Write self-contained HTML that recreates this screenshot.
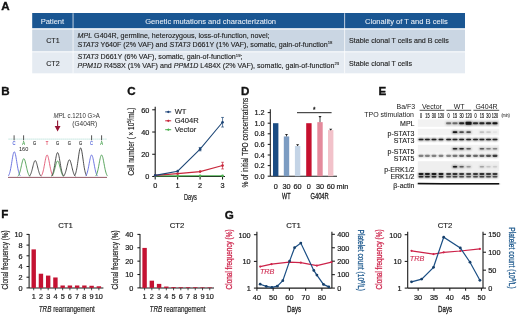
<!DOCTYPE html>
<html><head><meta charset="utf-8">
<style>
html,body{margin:0;padding:0;background:#fff;width:520px;height:315px;overflow:hidden}
svg{display:block;font-family:"Liberation Sans",sans-serif;will-change:transform}
.pl{font-weight:bold;font-size:11.6px;fill:#111;stroke:#111;stroke-width:0.35px}
.tt{font-size:7.12px;fill:#222;stroke:#222;stroke-width:0.12px}
.th{font-size:7.55px;fill:#e6edf5;stroke:#e6edf5;stroke-width:0.08px}
.tk{font-size:7.3px;fill:#222;stroke:#222;stroke-width:0.22px}
.lb{font-size:7px;fill:#222}
</style></head><body>
<svg width="520" height="315" viewBox="0 0 520 315">

<text class="pl" x="1.2" y="9.6">A</text>
<rect x="32.2" y="13.0" width="432.8" height="15.2" fill="#1a5692"/>
<rect x="32.2" y="29.5" width="432.8" height="21.8" fill="#cad6e3"/>
<rect x="32.2" y="52.3" width="432.8" height="21" fill="#e5ebf2"/>
<rect x="72.6" y="13.2" width="0.9" height="60.1" fill="#fff" opacity="0.8"/>
<rect x="344.2" y="13.2" width="0.9" height="60.1" fill="#fff" opacity="0.8"/>
<text class="th" x="52.4" y="24" text-anchor="middle">Patient</text>
<text class="th" x="210.6" y="24" text-anchor="middle">Genetic mutations and characterization</text>
<text class="th" x="406.4" y="24" text-anchor="middle">Clonality of T and B cells</text>
<text class="tt" x="52.9" y="42.9" text-anchor="middle" font-size="8" stroke="#262626" stroke-width="0.08">CT1</text>
<text class="tt" x="52.9" y="65.9" text-anchor="middle" font-size="8" stroke="#262626" stroke-width="0.08">CT2</text>
<text class="tt" x="77.5" y="38"><tspan font-style="italic">MPL</tspan> G404R, germline, heterozygous, loss-of-function, novel;</text>
<text class="tt" x="77.5" y="46.6"><tspan font-style="italic">STAT3</tspan> Y640F (2% VAF) and <tspan font-style="italic">STAT3</tspan> D661Y (1% VAF), somatic, gain-of-function<tspan font-size="4.2" dy="-2.6">18</tspan></text>
<text class="tt" x="77.5" y="59.3"><tspan font-style="italic">STAT3</tspan> D661Y (6% VAF), somatic, gain-of-function<tspan font-size="4.2" dy="-2.6">19</tspan><tspan dy="2.6">;</tspan></text>
<text class="tt" x="77.5" y="68"><tspan font-style="italic">PPM1D</tspan> R458X (1% VAF) and <tspan font-style="italic">PPM1D</tspan> L484X (2% VAF), somatic, gain-of-function<tspan font-size="4.2" dy="-2.6">23</tspan></text>
<text class="tt" x="349" y="43" font-size="7.25">Stable clonal T cells and B cells</text>
<text class="tt" x="349" y="65.6" font-size="7.25">Stable clonal T cells</text>

<text class="pl" x="1.3" y="94.6">B</text>
<text class="pl" x="127.3" y="94.8">C</text>
<text class="pl" x="241" y="94.5">D</text>
<text class="pl" x="378.4" y="94.5">E</text>
<text class="pl" x="1.2" y="218.3">F</text>
<text class="pl" x="224.8" y="219">G</text>

<text x="53.4" y="117.7" font-size="6.3" fill="#333" textLength="46.5" lengthAdjust="spacingAndGlyphs"><tspan font-style="italic">MPL</tspan> c.1210 G&gt;A</text>
<text x="72.3" y="126.2" font-size="6.5" fill="#333">(G404R)</text>
<line x1="57.6" y1="120.4" x2="57.6" y2="127" stroke="#8e1533" stroke-width="1.1"/>
<path d="M54.7,125.9 L60.5,125.9 L57.6,131.4 Z" fill="#961535"/>
<line x1="8.5" y1="139.1" x2="107" y2="139.1" stroke="#9cd6cc" stroke-width="0.8" stroke-dasharray="1.2,0.8"/>
<text x="14.1" y="144.7" font-size="5.2" fill="#5060d8" stroke="#5060d8" stroke-width="0.15" text-anchor="middle" transform="translate(14.1,0) scale(0.8,1) translate(-14.1,0)">C</text>
<text x="23.6" y="144.7" font-size="5.2" fill="#3a9a40" stroke="#3a9a40" stroke-width="0.15" text-anchor="middle" transform="translate(23.6,0) scale(0.8,1) translate(-23.6,0)">A</text>
<text x="34.5" y="144.7" font-size="5.2" fill="#333" stroke="#333" stroke-width="0.15" text-anchor="middle" transform="translate(34.5,0) scale(0.8,1) translate(-34.5,0)">G</text>
<text x="46.9" y="144.7" font-size="5.2" fill="#e0405a" stroke="#e0405a" stroke-width="0.15" text-anchor="middle" transform="translate(46.9,0) scale(0.8,1) translate(-46.9,0)">T</text>
<text x="57.6" y="144.7" font-size="5.2" fill="#333" stroke="#333" stroke-width="0.15" text-anchor="middle" transform="translate(57.6,0) scale(0.8,1) translate(-57.6,0)">G</text>
<text x="69.4" y="144.7" font-size="5.2" fill="#333" stroke="#333" stroke-width="0.15" text-anchor="middle" transform="translate(69.4,0) scale(0.8,1) translate(-69.4,0)">G</text>
<text x="80.6" y="144.7" font-size="5.2" fill="#333" stroke="#333" stroke-width="0.15" text-anchor="middle" transform="translate(80.6,0) scale(0.8,1) translate(-80.6,0)">G</text>
<text x="91.6" y="144.7" font-size="5.2" fill="#5060d8" stroke="#5060d8" stroke-width="0.15" text-anchor="middle" transform="translate(91.6,0) scale(0.8,1) translate(-91.6,0)">C</text>
<text x="101.6" y="144.7" font-size="5.2" fill="#3a9a40" stroke="#3a9a40" stroke-width="0.15" text-anchor="middle" transform="translate(101.6,0) scale(0.8,1) translate(-101.6,0)">A</text>
<line x1="14.1" y1="135.3" x2="14.1" y2="140.3" stroke="#555" stroke-width="1"/>
<line x1="23.6" y1="135.3" x2="23.6" y2="140.3" stroke="#555" stroke-width="1"/>
<line x1="91.6" y1="135.3" x2="91.6" y2="140.3" stroke="#555" stroke-width="1"/>
<line x1="101.6" y1="135.3" x2="101.6" y2="140.3" stroke="#555" stroke-width="1"/>
<text x="19" y="150.8" font-size="5.6" fill="#222">160</text>
<polyline points="8.30,175.93 8.60,175.50 8.90,174.96 9.20,174.29 9.50,173.47 9.80,172.50 10.10,171.36 10.40,170.05 10.70,168.57 11.00,166.95 11.30,165.20 11.60,163.36 11.90,161.48 12.20,159.61 12.50,157.81 12.80,156.14 13.10,154.67 13.40,153.46 13.70,152.55 14.00,151.99 14.30,151.80 14.60,151.99 14.90,152.55 15.20,153.46 15.50,154.67 15.80,156.14 16.10,157.81 16.40,159.61 16.70,161.48 17.00,163.36 17.30,165.20 17.60,166.95 17.90,168.57 18.20,170.05 18.50,171.36 18.80,172.50 19.10,173.47 19.40,174.29 19.70,174.96 20.00,175.50 20.30,175.93" fill="none" stroke="#5f68dc" stroke-width="0.9"/>
<polyline points="17.80,176.28 18.10,175.96 18.40,175.57 18.70,175.08 19.00,174.49 19.30,173.78 19.60,172.94 19.90,171.99 20.20,170.91 20.50,169.73 20.80,168.46 21.10,167.12 21.40,165.75 21.70,164.39 22.00,163.08 22.30,161.86 22.60,160.79 22.90,159.91 23.20,159.25 23.50,158.84 23.80,158.70 24.10,158.84 24.40,159.25 24.70,159.91 25.00,160.79 25.30,161.86 25.60,163.08 25.90,164.39 26.20,165.75 26.50,167.12 26.80,168.46 27.10,169.73 27.40,170.91 27.70,171.99 28.00,172.94 28.30,173.78 28.60,174.49 28.90,175.08 29.20,175.57 29.50,175.96 29.80,176.28" fill="none" stroke="#4a9c4e" stroke-width="0.9"/>
<polyline points="29.20,176.37 29.50,176.09 29.80,175.74 30.10,175.30 30.40,174.76 30.70,174.13 31.00,173.38 31.30,172.52 31.60,171.56 31.90,170.50 32.20,169.36 32.50,168.16 32.80,166.93 33.10,165.70 33.40,164.53 33.70,163.44 34.00,162.48 34.30,161.68 34.60,161.09 34.90,160.72 35.20,160.60 35.50,160.72 35.80,161.09 36.10,161.68 36.40,162.48 36.70,163.44 37.00,164.53 37.30,165.70 37.60,166.93 37.90,168.16 38.20,169.36 38.50,170.50 38.80,171.56 39.10,172.52 39.40,173.38 39.70,174.13 40.00,174.76 40.30,175.30 40.60,175.74 40.90,176.09 41.20,176.37" fill="none" stroke="#3a3a3a" stroke-width="0.9"/>
<polyline points="41.10,176.09 41.40,175.72 41.70,175.24 42.00,174.66 42.30,173.94 42.60,173.09 42.90,172.09 43.20,170.95 43.50,169.66 43.80,168.24 44.10,166.71 44.40,165.10 44.70,163.46 45.00,161.82 45.30,160.25 45.60,158.79 45.90,157.51 46.20,156.45 46.50,155.66 46.80,155.17 47.10,155.00 47.40,155.17 47.70,155.66 48.00,156.45 48.30,157.51 48.60,158.79 48.90,160.25 49.20,161.82 49.50,163.46 49.80,165.10 50.10,166.71 50.40,168.24 50.70,169.66 51.00,170.95 51.30,172.09 51.60,173.09 51.90,173.94 52.20,174.66 52.50,175.24 52.80,175.72 53.10,176.09" fill="none" stroke="#e05470" stroke-width="0.9"/>
<polyline points="51.60,176.39 51.90,176.12 52.20,175.77 52.50,175.34 52.80,174.82 53.10,174.20 53.40,173.47 53.70,172.64 54.00,171.70 54.30,170.66 54.60,169.55 54.90,168.37 55.20,167.17 55.50,165.98 55.80,164.83 56.10,163.77 56.40,162.83 56.70,162.06 57.00,161.48 57.30,161.12 57.60,161.00 57.90,161.12 58.20,161.48 58.50,162.06 58.80,162.83 59.10,163.77 59.40,164.83 59.70,165.98 60.00,167.17 60.30,168.37 60.60,169.55 60.90,170.66 61.20,171.70 61.50,172.64 61.80,173.47 62.10,174.20 62.40,174.82 62.70,175.34 63.00,175.77 63.30,176.12 63.60,176.39" fill="none" stroke="#4a9c4e" stroke-width="0.9"/>
<polyline points="51.60,175.97 51.90,175.56 52.20,175.03 52.50,174.38 52.80,173.59 53.10,172.65 53.40,171.54 53.70,170.27 54.00,168.84 54.30,167.27 54.60,165.58 54.90,163.80 55.20,161.97 55.50,160.16 55.80,158.42 56.10,156.80 56.40,155.38 56.70,154.21 57.00,153.33 57.30,152.78 57.60,152.60 57.90,152.78 58.20,153.33 58.50,154.21 58.80,155.38 59.10,156.80 59.40,158.42 59.70,160.16 60.00,161.97 60.30,163.80 60.60,165.58 60.90,167.27 61.20,168.84 61.50,170.27 61.80,171.54 62.10,172.65 62.40,173.59 62.70,174.38 63.00,175.03 63.30,175.56 63.60,175.97" fill="none" stroke="#3a3a3a" stroke-width="0.9"/>
<polyline points="63.40,176.33 63.70,176.04 64.00,175.67 64.30,175.21 64.60,174.65 64.90,173.98 65.20,173.20 65.50,172.30 65.80,171.29 66.10,170.18 66.40,168.98 66.70,167.72 67.00,166.43 67.30,165.15 67.60,163.92 67.90,162.77 68.20,161.77 68.50,160.94 68.80,160.31 69.10,159.93 69.40,159.80 69.70,159.93 70.00,160.31 70.30,160.94 70.60,161.77 70.90,162.77 71.20,163.92 71.50,165.15 71.80,166.43 72.10,167.72 72.40,168.98 72.70,170.18 73.00,171.29 73.30,172.30 73.60,173.20 73.90,173.98 74.20,174.65 74.50,175.21 74.80,175.67 75.10,176.04 75.40,176.33" fill="none" stroke="#3a3a3a" stroke-width="0.9"/>
<polyline points="74.60,175.74 74.90,175.24 75.20,174.62 75.50,173.84 75.80,172.90 76.10,171.78 76.40,170.46 76.70,168.95 77.00,167.25 77.30,165.37 77.60,163.36 77.90,161.24 78.20,159.07 78.50,156.91 78.80,154.83 79.10,152.91 79.40,151.21 79.70,149.81 80.00,148.77 80.30,148.12 80.60,147.90 80.90,148.12 81.20,148.77 81.50,149.81 81.80,151.21 82.10,152.91 82.40,154.83 82.70,156.91 83.00,159.07 83.30,161.24 83.60,163.36 83.90,165.37 84.20,167.25 84.50,168.95 84.80,170.46 85.10,171.78 85.40,172.90 85.70,173.84 86.00,174.62 86.30,175.24 86.60,175.74" fill="none" stroke="#3a3a3a" stroke-width="0.9"/>
<polyline points="85.60,176.09 85.90,175.72 86.20,175.24 86.50,174.66 86.80,173.94 87.10,173.09 87.40,172.09 87.70,170.95 88.00,169.66 88.30,168.24 88.60,166.71 88.90,165.10 89.20,163.46 89.50,161.82 89.80,160.25 90.10,158.79 90.40,157.51 90.70,156.45 91.00,155.66 91.30,155.17 91.60,155.00 91.90,155.17 92.20,155.66 92.50,156.45 92.80,157.51 93.10,158.79 93.40,160.25 93.70,161.82 94.00,163.46 94.30,165.10 94.60,166.71 94.90,168.24 95.20,169.66 95.50,170.95 95.80,172.09 96.10,173.09 96.40,173.94 96.70,174.66 97.00,175.24 97.30,175.72 97.60,176.09" fill="none" stroke="#5f68dc" stroke-width="0.9"/>
<polyline points="95.60,176.09 95.90,175.72 96.20,175.24 96.50,174.66 96.80,173.94 97.10,173.09 97.40,172.09 97.70,170.95 98.00,169.66 98.30,168.24 98.60,166.71 98.90,165.10 99.20,163.46 99.50,161.82 99.80,160.25 100.10,158.79 100.40,157.51 100.70,156.45 101.00,155.66 101.30,155.17 101.60,155.00 101.90,155.17 102.20,155.66 102.50,156.45 102.80,157.51 103.10,158.79 103.40,160.25 103.70,161.82 104.00,163.46 104.30,165.10 104.60,166.71 104.90,168.24 105.20,169.66 105.50,170.95 105.80,172.09 106.10,173.09 106.40,173.94 106.70,174.66 107.00,175.24 107.30,175.72 107.60,176.09" fill="none" stroke="#4a9c4e" stroke-width="0.9"/>
<line x1="8" y1="177.39999999999998" x2="107" y2="177.39999999999998" stroke="#7a3040" stroke-width="0.8"/>
<line x1="155.2" y1="106.7" x2="155.2" y2="176.5" stroke="#1a1a1a" stroke-width="1.1"/>
<line x1="155.2" y1="176.5" x2="225" y2="176.5" stroke="#1a1a1a" stroke-width="1.1"/>
<line x1="152.2" y1="176.50" x2="155.2" y2="176.50" stroke="#1a1a1a" stroke-width="1.05"/>
<text class="tk" x="149.29999999999998" y="179.30" text-anchor="end" font-size="7.8">0</text>
<line x1="152.2" y1="154.26" x2="155.2" y2="154.26" stroke="#1a1a1a" stroke-width="1.05"/>
<text class="tk" x="149.29999999999998" y="157.06" text-anchor="end" font-size="7.8">20</text>
<line x1="152.2" y1="132.02" x2="155.2" y2="132.02" stroke="#1a1a1a" stroke-width="1.05"/>
<text class="tk" x="149.29999999999998" y="134.82" text-anchor="end" font-size="7.8">40</text>
<line x1="152.2" y1="109.78" x2="155.2" y2="109.78" stroke="#1a1a1a" stroke-width="1.05"/>
<text class="tk" x="149.29999999999998" y="112.58" text-anchor="end" font-size="7.8">60</text>
<line x1="155.20" y1="176.5" x2="155.20" y2="179.5" stroke="#1a1a1a" stroke-width="1.05"/>
<text class="tk" x="155.20" y="188.40" text-anchor="middle" font-size="7.9">0</text>
<line x1="177.65" y1="176.5" x2="177.65" y2="179.5" stroke="#1a1a1a" stroke-width="1.05"/>
<text class="tk" x="177.65" y="188.40" text-anchor="middle" font-size="7.9">1</text>
<line x1="200.10" y1="176.5" x2="200.10" y2="179.5" stroke="#1a1a1a" stroke-width="1.05"/>
<text class="tk" x="200.10" y="188.40" text-anchor="middle" font-size="7.9">2</text>
<line x1="222.55" y1="176.5" x2="222.55" y2="179.5" stroke="#1a1a1a" stroke-width="1.05"/>
<text class="tk" x="222.55" y="188.40" text-anchor="middle" font-size="7.9">3</text>
<text x="183.9" y="200.4" font-size="8.6" fill="#222" stroke="#222" stroke-width="0.22" textLength="12.9" lengthAdjust="spacingAndGlyphs">Days</text>
<text transform="translate(133.6,141.6) rotate(-90)" font-size="8.2" fill="#222" stroke="#222" stroke-width="0.15" text-anchor="middle" textLength="68" lengthAdjust="spacingAndGlyphs">Cell number ( × 10<tspan font-size="5.4" dy="-2.6">5</tspan><tspan dy="2.6">/mL)</tspan></text>
<polyline points="155.20,175.89 177.65,175.89 200.10,175.83 222.55,175.83" fill="none" stroke="#4cb050" stroke-width="1.05"/>
<circle cx="155.20" cy="175.89" r="1.3" fill="#4cb050"/>
<circle cx="177.65" cy="175.89" r="1.3" fill="#4cb050"/>
<circle cx="200.10" cy="175.83" r="1.3" fill="#4cb050"/>
<circle cx="222.55" cy="175.83" r="1.3" fill="#4cb050"/>
<polyline points="155.20,175.39 177.65,173.61 200.10,171.61 222.55,165.60" fill="none" stroke="#c8283c" stroke-width="1.05"/>
<circle cx="155.20" cy="175.39" r="1.3" fill="#c8283c"/>
<circle cx="177.65" cy="173.61" r="1.3" fill="#c8283c"/>
<circle cx="200.10" cy="171.61" r="1.3" fill="#c8283c"/>
<circle cx="222.55" cy="165.60" r="1.3" fill="#c8283c"/>
<path d="M222.55,162.27 V168.94 M221.15,162.27 h2.8 M221.15,168.94 h2.8" stroke="#c8283c" stroke-width="0.7" fill="none"/>
<polyline points="155.20,175.39 177.65,171.16 200.10,149.14 222.55,122.23" fill="none" stroke="#1d4676" stroke-width="1.05"/>
<circle cx="155.20" cy="175.39" r="1.3" fill="#1d4676"/>
<circle cx="177.65" cy="171.16" r="1.3" fill="#1d4676"/>
<circle cx="200.10" cy="149.14" r="1.3" fill="#1d4676"/>
<path d="M200.10,147.48 V150.81 M198.70,147.48 h2.8 M198.70,150.81 h2.8" stroke="#1d4676" stroke-width="0.7" fill="none"/>
<circle cx="222.55" cy="122.23" r="1.3" fill="#1d4676"/>
<path d="M222.55,117.45 V127.02 M221.15,117.45 h2.8 M221.15,127.02 h2.8" stroke="#1d4676" stroke-width="0.7" fill="none"/>
<line x1="165.2" y1="111.9" x2="171.2" y2="111.9" stroke="#1c4278" stroke-width="1"/><path d="M168.3,110.5 l1.4,1.4 l-1.4,1.4 l-1.4,-1.4 z" fill="#1c4278"/>
<text x="174.7" y="114.3" font-size="7.6" fill="#222" stroke="#222" stroke-width="0.12">WT</text>
<line x1="165.2" y1="120.8" x2="171.2" y2="120.8" stroke="#c8283c" stroke-width="1"/><path d="M168.3,119.39999999999999 l1.4,1.4 l-1.4,1.4 l-1.4,-1.4 z" fill="#c8283c"/>
<text x="174.7" y="123.2" font-size="7.6" fill="#222" stroke="#222" stroke-width="0.12">G404R</text>
<line x1="165.2" y1="129.7" x2="171.2" y2="129.7" stroke="#4cb050" stroke-width="1"/><path d="M168.3,128.29999999999998 l1.4,1.4 l-1.4,1.4 l-1.4,-1.4 z" fill="#4cb050"/>
<text x="174.7" y="132.1" font-size="7.6" fill="#222" stroke="#222" stroke-width="0.12">Vector</text>
<line x1="270.3" y1="109.2" x2="270.3" y2="176.2" stroke="#1a1a1a" stroke-width="1.05"/>
<line x1="270.3" y1="176.2" x2="337" y2="176.2" stroke="#1a1a1a" stroke-width="1.05"/>
<line x1="267.7" y1="176.20" x2="270.3" y2="176.20" stroke="#1a1a1a" stroke-width="1.05"/>
<text class="tk" x="264.7" y="178.80" text-anchor="end">0.0</text>
<line x1="267.7" y1="165.60" x2="270.3" y2="165.60" stroke="#1a1a1a" stroke-width="1.05"/>
<text class="tk" x="264.7" y="168.20" text-anchor="end">0.2</text>
<line x1="267.7" y1="155.00" x2="270.3" y2="155.00" stroke="#1a1a1a" stroke-width="1.05"/>
<text class="tk" x="264.7" y="157.60" text-anchor="end">0.4</text>
<line x1="267.7" y1="144.40" x2="270.3" y2="144.40" stroke="#1a1a1a" stroke-width="1.05"/>
<text class="tk" x="264.7" y="147.00" text-anchor="end">0.6</text>
<line x1="267.7" y1="133.80" x2="270.3" y2="133.80" stroke="#1a1a1a" stroke-width="1.05"/>
<text class="tk" x="264.7" y="136.40" text-anchor="end">0.8</text>
<line x1="267.7" y1="123.20" x2="270.3" y2="123.20" stroke="#1a1a1a" stroke-width="1.05"/>
<text class="tk" x="264.7" y="125.80" text-anchor="end">1.0</text>
<line x1="267.7" y1="112.60" x2="270.3" y2="112.60" stroke="#1a1a1a" stroke-width="1.05"/>
<text class="tk" x="264.7" y="115.20" text-anchor="end">1.2</text>
<rect x="273.00" y="123.20" width="5.4" height="53.00" fill="#1b4c83"/>
<rect x="283.80" y="136.45" width="5.4" height="39.75" fill="#7c9cc2"/>
<path d="M286.50,134.33 V136.45" stroke="#333" stroke-width="0.9" fill="none"/><path d="M284.90,133.93 h3.2 l-1.6,1.8 z" fill="#222"/>
<rect x="294.90" y="145.99" width="5.4" height="30.21" fill="#c4d4e6"/>
<path d="M297.60,144.66 V145.99" stroke="#333" stroke-width="0.9" fill="none"/><path d="M296.00,144.26 h3.2 l-1.6,1.8 z" fill="#222"/>
<rect x="306.20" y="123.20" width="5.4" height="53.00" fill="#c6102e"/>
<rect x="317.30" y="122.14" width="5.4" height="54.06" fill="#e48a9c"/>
<path d="M320.00,116.31 V122.14" stroke="#333" stroke-width="0.9" fill="none"/><path d="M318.40,115.91 h3.2 l-1.6,1.8 z" fill="#222"/>
<rect x="328.00" y="130.09" width="5.4" height="46.11" fill="#f2c2ca"/>
<path d="M330.70,129.03 V130.09" stroke="#333" stroke-width="0.9" fill="none"/><path d="M329.10,128.63 h3.2 l-1.6,1.8 z" fill="#222"/>
<line x1="297" y1="112.7" x2="331.6" y2="112.7" stroke="#222" stroke-width="1"/>
<text x="314.2" y="111.9" font-size="6.5" fill="#222" stroke="#222" stroke-width="0.3" text-anchor="middle">*</text>
<text class="tk" x="275.7" y="189.3" text-anchor="middle" font-size="7.8">0</text>
<text class="tk" x="286.5" y="189.3" text-anchor="middle" font-size="7.8">30</text>
<text class="tk" x="297.6" y="189.3" text-anchor="middle" font-size="7.8">60</text>
<text class="tk" x="308.9" y="189.3" text-anchor="middle" font-size="7.8">0</text>
<text class="tk" x="320.0" y="189.3" text-anchor="middle" font-size="7.8">30</text>
<text class="tk" x="330.7" y="189.3" text-anchor="middle" font-size="7.8">60</text>
<text class="tk" x="336.6" y="189.3" font-size="7.8">min</text>
<text x="282.1" y="199" font-size="8.8" fill="#222" stroke="#222" stroke-width="0.32" textLength="8.5" lengthAdjust="spacingAndGlyphs">WT</text>
<text x="310.4" y="199" font-size="8.8" fill="#222" stroke="#222" stroke-width="0.32" textLength="18.4" lengthAdjust="spacingAndGlyphs">G404R</text>
<text transform="translate(247.9,142.6) rotate(-90)" font-size="8.8" fill="#222" stroke="#222" stroke-width="0.18" text-anchor="middle" textLength="90" lengthAdjust="spacingAndGlyphs">% of initial TPO concentrations</text>
<defs><filter id="bl" x="-50%" y="-100%" width="200%" height="300%"><feGaussianBlur stdDeviation="0.8"/></filter><filter id="bl2" x="-50%" y="-100%" width="200%" height="300%"><feGaussianBlur stdDeviation="0.8"/></filter></defs>
<text x="415.2" y="108.8" font-size="7" fill="#222" text-anchor="end">Ba/F3</text>
<text x="414" y="117.4" font-size="7" fill="#222" text-anchor="end">TPO stimulation</text>
<text x="432" y="108.6" font-size="7" fill="#222" text-anchor="middle">Vector</text>
<line x1="419.6" y1="110.3" x2="444.4" y2="110.3" stroke="#222" stroke-width="0.8"/>
<text x="459.1" y="108.6" font-size="7" fill="#222" text-anchor="middle">WT</text>
<line x1="446.4" y1="110.3" x2="471.2" y2="110.3" stroke="#222" stroke-width="0.8"/>
<text x="486.5" y="108.6" font-size="7" fill="#222" text-anchor="middle">G404R</text>
<line x1="473.4" y1="110.3" x2="499.2" y2="110.3" stroke="#222" stroke-width="0.8"/>
<text x="421.0" y="117.6" font-size="6.4" fill="#222" stroke="#222" stroke-width="0.2" text-anchor="middle" transform="translate(421.0,0) scale(0.6,1) translate(-421.0,0)">0</text>
<text x="427.4" y="117.6" font-size="6.4" fill="#222" stroke="#222" stroke-width="0.2" text-anchor="middle" transform="translate(427.4,0) scale(0.6,1) translate(-427.4,0)">15</text>
<text x="434.0" y="117.6" font-size="6.4" fill="#222" stroke="#222" stroke-width="0.2" text-anchor="middle" transform="translate(434.0,0) scale(0.6,1) translate(-434.0,0)">30</text>
<text x="441.0" y="117.6" font-size="6.4" fill="#222" stroke="#222" stroke-width="0.2" text-anchor="middle" transform="translate(441.0,0) scale(0.6,1) translate(-441.0,0)">120</text>
<text x="448.6" y="117.6" font-size="6.4" fill="#222" stroke="#222" stroke-width="0.2" text-anchor="middle" transform="translate(448.6,0) scale(0.6,1) translate(-448.6,0)">0</text>
<text x="455.0" y="117.6" font-size="6.4" fill="#222" stroke="#222" stroke-width="0.2" text-anchor="middle" transform="translate(455.0,0) scale(0.6,1) translate(-455.0,0)">15</text>
<text x="461.6" y="117.6" font-size="6.4" fill="#222" stroke="#222" stroke-width="0.2" text-anchor="middle" transform="translate(461.6,0) scale(0.6,1) translate(-461.6,0)">30</text>
<text x="468.6" y="117.6" font-size="6.4" fill="#222" stroke="#222" stroke-width="0.2" text-anchor="middle" transform="translate(468.6,0) scale(0.6,1) translate(-468.6,0)">120</text>
<text x="475.5" y="117.6" font-size="6.4" fill="#222" stroke="#222" stroke-width="0.2" text-anchor="middle" transform="translate(475.5,0) scale(0.6,1) translate(-475.5,0)">0</text>
<text x="481.9" y="117.6" font-size="6.4" fill="#222" stroke="#222" stroke-width="0.2" text-anchor="middle" transform="translate(481.9,0) scale(0.6,1) translate(-481.9,0)">15</text>
<text x="488.5" y="117.6" font-size="6.4" fill="#222" stroke="#222" stroke-width="0.2" text-anchor="middle" transform="translate(488.5,0) scale(0.6,1) translate(-488.5,0)">30</text>
<text x="495.0" y="117.6" font-size="6.4" fill="#222" stroke="#222" stroke-width="0.2" text-anchor="middle" transform="translate(495.0,0) scale(0.6,1) translate(-495.0,0)">120</text>
<text x="501.4" y="117.4" font-size="5.4" fill="#333" stroke="#333" stroke-width="0.1" transform="translate(501.4,0) scale(0.68,1) translate(-501.4,0)">(min)</text>
<text x="414.5" y="125.5" font-size="7" fill="#222" stroke="#222" stroke-width="0.12" text-anchor="end">MPL</text>
<text x="414.5" y="135.8" font-size="7" fill="#222" stroke="#222" stroke-width="0.12" text-anchor="end">p-STAT3</text>
<text x="414.5" y="143" font-size="7" fill="#222" stroke="#222" stroke-width="0.12" text-anchor="end">STAT3</text>
<text x="414.5" y="154.2" font-size="7" fill="#222" stroke="#222" stroke-width="0.12" text-anchor="end">p-STAT5</text>
<text x="414.5" y="161.4" font-size="7" fill="#222" stroke="#222" stroke-width="0.12" text-anchor="end">STAT5</text>
<text x="414.5" y="171.9" font-size="7" fill="#222" stroke="#222" stroke-width="0.12" text-anchor="end">p-ERK1/2</text>
<text x="414.5" y="179" font-size="7" fill="#222" stroke="#222" stroke-width="0.12" text-anchor="end">ERK1/2</text>
<text x="414.5" y="188" font-size="7" fill="#222" stroke="#222" stroke-width="0.12" text-anchor="end">β-actin</text>
<rect x="417.8" y="119.4" width="81.4" height="7.40" fill="#f2f2f2"/>
<rect x="417.8" y="128.8" width="81.4" height="6.60" fill="#f3f3f3"/>
<rect x="417.8" y="144.8" width="81.4" height="7.80" fill="#f2f2f2"/>
<rect x="417.8" y="161.2" width="81.4" height="10.00" fill="#efefef"/>
<rect x="445.60" y="121.90" width="6.00" height="2.80" rx="1" fill="#000" opacity="0.28" filter="url(#bl)"/>
<rect x="446.10" y="122.30" width="5.00" height="2.00" rx="0.8" fill="#000" opacity="0.42"/>
<rect x="452.00" y="121.90" width="6.00" height="2.80" rx="1" fill="#000" opacity="0.29" filter="url(#bl)"/>
<rect x="452.50" y="122.30" width="5.00" height="2.00" rx="0.8" fill="#000" opacity="0.44"/>
<rect x="458.60" y="121.90" width="6.00" height="2.80" rx="1" fill="#000" opacity="0.50" filter="url(#bl)"/>
<rect x="459.10" y="122.30" width="5.00" height="2.00" rx="0.8" fill="#000" opacity="0.77"/>
<rect x="465.10" y="121.40" width="7.00" height="3.80" rx="1" fill="#000" opacity="0.55" filter="url(#bl)"/>
<rect x="465.60" y="121.80" width="6.00" height="3.00" rx="0.8" fill="#000" opacity="0.85"/>
<rect x="472.50" y="121.90" width="6.00" height="2.80" rx="1" fill="#000" opacity="0.47" filter="url(#bl)"/>
<rect x="473.00" y="122.30" width="5.00" height="2.00" rx="0.8" fill="#000" opacity="0.72"/>
<rect x="478.90" y="121.90" width="6.00" height="2.80" rx="1" fill="#000" opacity="0.50" filter="url(#bl)"/>
<rect x="479.40" y="122.30" width="5.00" height="2.00" rx="0.8" fill="#000" opacity="0.77"/>
<rect x="485.50" y="121.90" width="6.00" height="2.80" rx="1" fill="#000" opacity="0.51" filter="url(#bl)"/>
<rect x="486.00" y="122.30" width="5.00" height="2.00" rx="0.8" fill="#000" opacity="0.78"/>
<rect x="492.00" y="121.90" width="6.00" height="2.80" rx="1" fill="#000" opacity="0.55" filter="url(#bl)"/>
<rect x="492.50" y="122.30" width="5.00" height="2.00" rx="0.8" fill="#000" opacity="0.85"/>
<rect x="452.20" y="130.95" width="5.60" height="2.50" rx="1" fill="#000" opacity="0.55" filter="url(#bl)"/>
<rect x="452.70" y="131.35" width="4.60" height="1.70" rx="0.8" fill="#000" opacity="0.85"/>
<rect x="458.80" y="130.95" width="5.60" height="2.50" rx="1" fill="#000" opacity="0.37" filter="url(#bl)"/>
<rect x="459.30" y="131.35" width="4.60" height="1.70" rx="0.8" fill="#000" opacity="0.58"/>
<rect x="465.80" y="130.95" width="5.60" height="2.50" rx="1" fill="#000" opacity="0.37" filter="url(#bl)"/>
<rect x="466.30" y="131.35" width="4.60" height="1.70" rx="0.8" fill="#000" opacity="0.58"/>
<rect x="479.10" y="130.95" width="5.60" height="2.50" rx="1" fill="#000" opacity="0.10" filter="url(#bl)"/>
<rect x="479.60" y="131.35" width="4.60" height="1.70" rx="0.8" fill="#000" opacity="0.15"/>
<rect x="485.70" y="130.95" width="5.60" height="2.50" rx="1" fill="#000" opacity="0.08" filter="url(#bl)"/>
<rect x="486.20" y="131.35" width="4.60" height="1.70" rx="0.8" fill="#000" opacity="0.12"/>
<rect x="492.20" y="130.95" width="5.60" height="2.50" rx="1" fill="#000" opacity="0.03" filter="url(#bl)"/>
<rect x="492.70" y="131.35" width="4.60" height="1.70" rx="0.8" fill="#000" opacity="0.04"/>
<rect x="418.00" y="138.35" width="6.00" height="2.30" rx="1" fill="#000" opacity="0.52" filter="url(#bl)"/>
<rect x="418.50" y="138.75" width="5.00" height="1.50" rx="0.8" fill="#000" opacity="0.81"/>
<rect x="424.40" y="138.35" width="6.00" height="2.30" rx="1" fill="#000" opacity="0.52" filter="url(#bl)"/>
<rect x="424.90" y="138.75" width="5.00" height="1.50" rx="0.8" fill="#000" opacity="0.81"/>
<rect x="431.00" y="138.35" width="6.00" height="2.30" rx="1" fill="#000" opacity="0.52" filter="url(#bl)"/>
<rect x="431.50" y="138.75" width="5.00" height="1.50" rx="0.8" fill="#000" opacity="0.81"/>
<rect x="438.00" y="138.35" width="6.00" height="2.30" rx="1" fill="#000" opacity="0.52" filter="url(#bl)"/>
<rect x="438.50" y="138.75" width="5.00" height="1.50" rx="0.8" fill="#000" opacity="0.81"/>
<rect x="445.60" y="138.35" width="6.00" height="2.30" rx="1" fill="#000" opacity="0.52" filter="url(#bl)"/>
<rect x="446.10" y="138.75" width="5.00" height="1.50" rx="0.8" fill="#000" opacity="0.81"/>
<rect x="452.00" y="138.35" width="6.00" height="2.30" rx="1" fill="#000" opacity="0.52" filter="url(#bl)"/>
<rect x="452.50" y="138.75" width="5.00" height="1.50" rx="0.8" fill="#000" opacity="0.81"/>
<rect x="458.60" y="138.35" width="6.00" height="2.30" rx="1" fill="#000" opacity="0.52" filter="url(#bl)"/>
<rect x="459.10" y="138.75" width="5.00" height="1.50" rx="0.8" fill="#000" opacity="0.81"/>
<rect x="465.60" y="138.35" width="6.00" height="2.30" rx="1" fill="#000" opacity="0.52" filter="url(#bl)"/>
<rect x="466.10" y="138.75" width="5.00" height="1.50" rx="0.8" fill="#000" opacity="0.81"/>
<rect x="472.50" y="138.35" width="6.00" height="2.30" rx="1" fill="#000" opacity="0.52" filter="url(#bl)"/>
<rect x="473.00" y="138.75" width="5.00" height="1.50" rx="0.8" fill="#000" opacity="0.81"/>
<rect x="478.90" y="138.35" width="6.00" height="2.30" rx="1" fill="#000" opacity="0.52" filter="url(#bl)"/>
<rect x="479.40" y="138.75" width="5.00" height="1.50" rx="0.8" fill="#000" opacity="0.81"/>
<rect x="485.50" y="138.35" width="6.00" height="2.30" rx="1" fill="#000" opacity="0.52" filter="url(#bl)"/>
<rect x="486.00" y="138.75" width="5.00" height="1.50" rx="0.8" fill="#000" opacity="0.81"/>
<rect x="492.00" y="138.35" width="6.00" height="2.30" rx="1" fill="#000" opacity="0.52" filter="url(#bl)"/>
<rect x="492.50" y="138.75" width="5.00" height="1.50" rx="0.8" fill="#000" opacity="0.81"/>
<rect x="452.20" y="147.65" width="5.60" height="2.30" rx="1" fill="#000" opacity="0.51" filter="url(#bl)"/>
<rect x="452.70" y="148.05" width="4.60" height="1.50" rx="0.8" fill="#000" opacity="0.78"/>
<rect x="458.80" y="147.65" width="5.60" height="2.30" rx="1" fill="#000" opacity="0.50" filter="url(#bl)"/>
<rect x="459.30" y="148.05" width="4.60" height="1.50" rx="0.8" fill="#000" opacity="0.77"/>
<rect x="465.80" y="147.65" width="5.60" height="2.30" rx="1" fill="#000" opacity="0.34" filter="url(#bl)"/>
<rect x="466.30" y="148.05" width="4.60" height="1.50" rx="0.8" fill="#000" opacity="0.53"/>
<rect x="479.10" y="147.65" width="5.60" height="2.30" rx="1" fill="#000" opacity="0.34" filter="url(#bl)"/>
<rect x="479.60" y="148.05" width="4.60" height="1.50" rx="0.8" fill="#000" opacity="0.53"/>
<rect x="485.70" y="147.65" width="5.60" height="2.30" rx="1" fill="#000" opacity="0.25" filter="url(#bl)"/>
<rect x="486.20" y="148.05" width="4.60" height="1.50" rx="0.8" fill="#000" opacity="0.38"/>
<rect x="492.20" y="147.65" width="5.60" height="2.30" rx="1" fill="#000" opacity="0.23" filter="url(#bl)"/>
<rect x="492.70" y="148.05" width="4.60" height="1.50" rx="0.8" fill="#000" opacity="0.36"/>
<rect x="418.10" y="154.30" width="5.80" height="3.00" rx="1" fill="#000" opacity="0.25" filter="url(#bl)"/>
<rect x="418.60" y="154.70" width="4.80" height="2.20" rx="0.8" fill="#000" opacity="0.38"/>
<rect x="424.50" y="154.30" width="5.80" height="3.00" rx="1" fill="#000" opacity="0.25" filter="url(#bl)"/>
<rect x="425.00" y="154.70" width="4.80" height="2.20" rx="0.8" fill="#000" opacity="0.38"/>
<rect x="431.10" y="154.30" width="5.80" height="3.00" rx="1" fill="#000" opacity="0.25" filter="url(#bl)"/>
<rect x="431.60" y="154.70" width="4.80" height="2.20" rx="0.8" fill="#000" opacity="0.38"/>
<rect x="438.10" y="154.30" width="5.80" height="3.00" rx="1" fill="#000" opacity="0.25" filter="url(#bl)"/>
<rect x="438.60" y="154.70" width="4.80" height="2.20" rx="0.8" fill="#000" opacity="0.38"/>
<rect x="445.70" y="154.30" width="5.80" height="3.00" rx="1" fill="#000" opacity="0.23" filter="url(#bl)"/>
<rect x="446.20" y="154.70" width="4.80" height="2.20" rx="0.8" fill="#000" opacity="0.36"/>
<rect x="452.10" y="154.30" width="5.80" height="3.00" rx="1" fill="#000" opacity="0.28" filter="url(#bl)"/>
<rect x="452.60" y="154.70" width="4.80" height="2.20" rx="0.8" fill="#000" opacity="0.42"/>
<rect x="458.70" y="154.30" width="5.80" height="3.00" rx="1" fill="#000" opacity="0.30" filter="url(#bl)"/>
<rect x="459.20" y="154.70" width="4.80" height="2.20" rx="0.8" fill="#000" opacity="0.47"/>
<rect x="465.70" y="154.30" width="5.80" height="3.00" rx="1" fill="#000" opacity="0.33" filter="url(#bl)"/>
<rect x="466.20" y="154.70" width="4.80" height="2.20" rx="0.8" fill="#000" opacity="0.51"/>
<rect x="472.60" y="154.30" width="5.80" height="3.00" rx="1" fill="#000" opacity="0.30" filter="url(#bl)"/>
<rect x="473.10" y="154.70" width="4.80" height="2.20" rx="0.8" fill="#000" opacity="0.47"/>
<rect x="479.00" y="154.30" width="5.80" height="3.00" rx="1" fill="#000" opacity="0.33" filter="url(#bl)"/>
<rect x="479.50" y="154.70" width="4.80" height="2.20" rx="0.8" fill="#000" opacity="0.51"/>
<rect x="485.60" y="154.30" width="5.80" height="3.00" rx="1" fill="#000" opacity="0.36" filter="url(#bl)"/>
<rect x="486.10" y="154.70" width="4.80" height="2.20" rx="0.8" fill="#000" opacity="0.55"/>
<rect x="492.10" y="154.30" width="5.80" height="3.00" rx="1" fill="#000" opacity="0.43" filter="url(#bl)"/>
<rect x="492.60" y="154.70" width="4.80" height="2.20" rx="0.8" fill="#000" opacity="0.66"/>
<rect x="452.30" y="165.50" width="5.40" height="2.40" rx="1" fill="#000" opacity="0.55" filter="url(#bl)"/>
<rect x="452.80" y="165.90" width="4.40" height="1.60" rx="0.8" fill="#000" opacity="0.85"/>
<rect x="458.90" y="165.50" width="5.40" height="2.40" rx="1" fill="#000" opacity="0.33" filter="url(#bl)"/>
<rect x="459.40" y="165.90" width="4.40" height="1.60" rx="0.8" fill="#000" opacity="0.51"/>
<rect x="465.90" y="165.50" width="5.40" height="2.40" rx="1" fill="#000" opacity="0.18" filter="url(#bl)"/>
<rect x="466.40" y="165.90" width="4.40" height="1.60" rx="0.8" fill="#000" opacity="0.27"/>
<rect x="479.20" y="165.50" width="5.40" height="2.40" rx="1" fill="#000" opacity="0.15" filter="url(#bl)"/>
<rect x="479.70" y="165.90" width="4.40" height="1.60" rx="0.8" fill="#000" opacity="0.24"/>
<rect x="485.80" y="165.50" width="5.40" height="2.40" rx="1" fill="#000" opacity="0.08" filter="url(#bl)"/>
<rect x="486.30" y="165.90" width="4.40" height="1.60" rx="0.8" fill="#000" opacity="0.13"/>
<rect x="492.30" y="165.50" width="5.40" height="2.40" rx="1" fill="#000" opacity="0.07" filter="url(#bl)"/>
<rect x="492.80" y="165.90" width="4.40" height="1.60" rx="0.8" fill="#000" opacity="0.10"/>
<rect x="418.00" y="172.70" width="6.00" height="2.60" rx="1" fill="#000" opacity="0.53" filter="url(#bl)"/>
<rect x="418.50" y="173.10" width="5.00" height="1.80" rx="0.8" fill="#000" opacity="0.82"/>
<rect x="418.00" y="175.50" width="6.00" height="2.40" rx="1" fill="#000" opacity="0.50" filter="url(#bl)"/>
<rect x="418.50" y="175.90" width="5.00" height="1.60" rx="0.8" fill="#000" opacity="0.77"/>
<rect x="424.40" y="172.70" width="6.00" height="2.60" rx="1" fill="#000" opacity="0.53" filter="url(#bl)"/>
<rect x="424.90" y="173.10" width="5.00" height="1.80" rx="0.8" fill="#000" opacity="0.82"/>
<rect x="424.40" y="175.50" width="6.00" height="2.40" rx="1" fill="#000" opacity="0.50" filter="url(#bl)"/>
<rect x="424.90" y="175.90" width="5.00" height="1.60" rx="0.8" fill="#000" opacity="0.77"/>
<rect x="431.00" y="172.70" width="6.00" height="2.60" rx="1" fill="#000" opacity="0.53" filter="url(#bl)"/>
<rect x="431.50" y="173.10" width="5.00" height="1.80" rx="0.8" fill="#000" opacity="0.82"/>
<rect x="431.00" y="175.50" width="6.00" height="2.40" rx="1" fill="#000" opacity="0.50" filter="url(#bl)"/>
<rect x="431.50" y="175.90" width="5.00" height="1.60" rx="0.8" fill="#000" opacity="0.77"/>
<rect x="438.00" y="172.70" width="6.00" height="2.60" rx="1" fill="#000" opacity="0.53" filter="url(#bl)"/>
<rect x="438.50" y="173.10" width="5.00" height="1.80" rx="0.8" fill="#000" opacity="0.82"/>
<rect x="438.00" y="175.50" width="6.00" height="2.40" rx="1" fill="#000" opacity="0.50" filter="url(#bl)"/>
<rect x="438.50" y="175.90" width="5.00" height="1.60" rx="0.8" fill="#000" opacity="0.77"/>
<rect x="445.60" y="172.70" width="6.00" height="2.60" rx="1" fill="#000" opacity="0.44" filter="url(#bl)"/>
<rect x="446.10" y="173.10" width="5.00" height="1.80" rx="0.8" fill="#000" opacity="0.68"/>
<rect x="445.60" y="175.50" width="6.00" height="2.40" rx="1" fill="#000" opacity="0.39" filter="url(#bl)"/>
<rect x="446.10" y="175.90" width="5.00" height="1.60" rx="0.8" fill="#000" opacity="0.59"/>
<rect x="452.00" y="172.70" width="6.00" height="2.60" rx="1" fill="#000" opacity="0.47" filter="url(#bl)"/>
<rect x="452.50" y="173.10" width="5.00" height="1.80" rx="0.8" fill="#000" opacity="0.72"/>
<rect x="452.00" y="175.50" width="6.00" height="2.40" rx="1" fill="#000" opacity="0.41" filter="url(#bl)"/>
<rect x="452.50" y="175.90" width="5.00" height="1.60" rx="0.8" fill="#000" opacity="0.64"/>
<rect x="458.60" y="172.70" width="6.00" height="2.60" rx="1" fill="#000" opacity="0.44" filter="url(#bl)"/>
<rect x="459.10" y="173.10" width="5.00" height="1.80" rx="0.8" fill="#000" opacity="0.68"/>
<rect x="458.60" y="175.50" width="6.00" height="2.40" rx="1" fill="#000" opacity="0.39" filter="url(#bl)"/>
<rect x="459.10" y="175.90" width="5.00" height="1.60" rx="0.8" fill="#000" opacity="0.59"/>
<rect x="465.60" y="172.70" width="6.00" height="2.60" rx="1" fill="#000" opacity="0.41" filter="url(#bl)"/>
<rect x="466.10" y="173.10" width="5.00" height="1.80" rx="0.8" fill="#000" opacity="0.64"/>
<rect x="465.60" y="175.50" width="6.00" height="2.40" rx="1" fill="#000" opacity="0.36" filter="url(#bl)"/>
<rect x="466.10" y="175.90" width="5.00" height="1.60" rx="0.8" fill="#000" opacity="0.55"/>
<rect x="472.50" y="172.70" width="6.00" height="2.60" rx="1" fill="#000" opacity="0.44" filter="url(#bl)"/>
<rect x="473.00" y="173.10" width="5.00" height="1.80" rx="0.8" fill="#000" opacity="0.68"/>
<rect x="472.50" y="175.50" width="6.00" height="2.40" rx="1" fill="#000" opacity="0.39" filter="url(#bl)"/>
<rect x="473.00" y="175.90" width="5.00" height="1.60" rx="0.8" fill="#000" opacity="0.59"/>
<rect x="478.90" y="172.70" width="6.00" height="2.60" rx="1" fill="#000" opacity="0.47" filter="url(#bl)"/>
<rect x="479.40" y="173.10" width="5.00" height="1.80" rx="0.8" fill="#000" opacity="0.72"/>
<rect x="478.90" y="175.50" width="6.00" height="2.40" rx="1" fill="#000" opacity="0.41" filter="url(#bl)"/>
<rect x="479.40" y="175.90" width="5.00" height="1.60" rx="0.8" fill="#000" opacity="0.64"/>
<rect x="485.50" y="172.70" width="6.00" height="2.60" rx="1" fill="#000" opacity="0.44" filter="url(#bl)"/>
<rect x="486.00" y="173.10" width="5.00" height="1.80" rx="0.8" fill="#000" opacity="0.68"/>
<rect x="485.50" y="175.50" width="6.00" height="2.40" rx="1" fill="#000" opacity="0.39" filter="url(#bl)"/>
<rect x="486.00" y="175.90" width="5.00" height="1.60" rx="0.8" fill="#000" opacity="0.59"/>
<rect x="492.00" y="172.70" width="6.00" height="2.60" rx="1" fill="#000" opacity="0.44" filter="url(#bl)"/>
<rect x="492.50" y="173.10" width="5.00" height="1.80" rx="0.8" fill="#000" opacity="0.68"/>
<rect x="492.00" y="175.50" width="6.00" height="2.40" rx="1" fill="#000" opacity="0.39" filter="url(#bl)"/>
<rect x="492.50" y="175.90" width="5.00" height="1.60" rx="0.8" fill="#000" opacity="0.59"/>
<path d="M417.8,183.4 Q458,183.9 499.2,183.6" stroke="#111" stroke-width="1.6" fill="none" opacity="0.5" filter="url(#bl2)"/>
<path d="M417.8,183.5 Q458,184 499.2,183.7" stroke="#111" stroke-width="1.6" fill="none"/>
<line x1="29.1" y1="233.89999999999998" x2="29.1" y2="287.9" stroke="#1a1a1a" stroke-width="1.05"/>
<line x1="29.1" y1="287.9" x2="103.4" y2="287.9" stroke="#1a1a1a" stroke-width="1.05"/>
<line x1="26.5" y1="287.90" x2="29.1" y2="287.90" stroke="#1a1a1a" stroke-width="1.05"/>
<text class="tk" x="22.5" y="290.60" text-anchor="end">0</text>
<line x1="26.5" y1="277.20" x2="29.1" y2="277.20" stroke="#1a1a1a" stroke-width="1.05"/>
<text class="tk" x="22.5" y="279.90" text-anchor="end">2</text>
<line x1="26.5" y1="266.50" x2="29.1" y2="266.50" stroke="#1a1a1a" stroke-width="1.05"/>
<text class="tk" x="22.5" y="269.20" text-anchor="end">4</text>
<line x1="26.5" y1="255.80" x2="29.1" y2="255.80" stroke="#1a1a1a" stroke-width="1.05"/>
<text class="tk" x="22.5" y="258.50" text-anchor="end">6</text>
<line x1="26.5" y1="245.10" x2="29.1" y2="245.10" stroke="#1a1a1a" stroke-width="1.05"/>
<text class="tk" x="22.5" y="247.80" text-anchor="end">8</text>
<line x1="26.5" y1="234.40" x2="29.1" y2="234.40" stroke="#1a1a1a" stroke-width="1.05"/>
<text class="tk" x="22.5" y="237.10" text-anchor="end">10</text>
<rect x="31.50" y="249.38" width="4.4" height="38.52" fill="#c41232"/>
<line x1="33.70" y1="287.9" x2="33.70" y2="290.29999999999995" stroke="#222" stroke-width="0.8"/>
<text class="tk" x="33.70" y="299.20" text-anchor="middle">1</text>
<rect x="38.74" y="273.72" width="4.4" height="14.18" fill="#c41232"/>
<line x1="40.94" y1="287.9" x2="40.94" y2="290.29999999999995" stroke="#222" stroke-width="0.8"/>
<text class="tk" x="40.94" y="299.20" text-anchor="middle">2</text>
<rect x="45.98" y="275.59" width="4.4" height="12.30" fill="#c41232"/>
<line x1="48.18" y1="287.9" x2="48.18" y2="290.29999999999995" stroke="#222" stroke-width="0.8"/>
<text class="tk" x="48.18" y="299.20" text-anchor="middle">3</text>
<rect x="53.22" y="277.47" width="4.4" height="10.43" fill="#c41232"/>
<line x1="55.42" y1="287.9" x2="55.42" y2="290.29999999999995" stroke="#222" stroke-width="0.8"/>
<text class="tk" x="55.42" y="299.20" text-anchor="middle">4</text>
<rect x="60.46" y="285.49" width="4.4" height="2.41" fill="#c41232"/>
<line x1="62.66" y1="287.9" x2="62.66" y2="290.29999999999995" stroke="#222" stroke-width="0.8"/>
<text class="tk" x="62.66" y="299.20" text-anchor="middle">5</text>
<rect x="67.70" y="285.49" width="4.4" height="2.41" fill="#c41232"/>
<line x1="69.90" y1="287.9" x2="69.90" y2="290.29999999999995" stroke="#222" stroke-width="0.8"/>
<text class="tk" x="69.90" y="299.20" text-anchor="middle">6</text>
<rect x="74.94" y="285.49" width="4.4" height="2.41" fill="#c41232"/>
<line x1="77.14" y1="287.9" x2="77.14" y2="290.29999999999995" stroke="#222" stroke-width="0.8"/>
<text class="tk" x="77.14" y="299.20" text-anchor="middle">7</text>
<rect x="82.18" y="285.49" width="4.4" height="2.41" fill="#c41232"/>
<line x1="84.38" y1="287.9" x2="84.38" y2="290.29999999999995" stroke="#222" stroke-width="0.8"/>
<text class="tk" x="84.38" y="299.20" text-anchor="middle">8</text>
<rect x="89.42" y="285.76" width="4.4" height="2.14" fill="#c41232"/>
<line x1="91.62" y1="287.9" x2="91.62" y2="290.29999999999995" stroke="#222" stroke-width="0.8"/>
<text class="tk" x="91.62" y="299.20" text-anchor="middle">9</text>
<rect x="96.66" y="286.29" width="4.4" height="1.60" fill="#c41232"/>
<line x1="98.86" y1="287.9" x2="98.86" y2="290.29999999999995" stroke="#222" stroke-width="0.8"/>
<text class="tk" x="98.86" y="299.20" text-anchor="middle">10</text>
<text x="65.5" y="228.3" font-size="7.8" fill="#222" stroke="#222" stroke-width="0.15" text-anchor="middle">CT1</text>
<text x="38.7" y="312.4" font-size="8.3" fill="#222" stroke="#222" stroke-width="0.18" textLength="56" lengthAdjust="spacingAndGlyphs"><tspan font-style="italic">TRB</tspan> rearrangement</text>
<text transform="translate(7.5,260) rotate(-90)" font-size="8.6" fill="#222" stroke="#222" stroke-width="0.18" text-anchor="middle" textLength="59" lengthAdjust="spacingAndGlyphs">Clonal frequency (%)</text>
<line x1="140.0" y1="233.89999999999998" x2="140.0" y2="287.9" stroke="#1a1a1a" stroke-width="1.05"/>
<line x1="140.0" y1="287.9" x2="214" y2="287.9" stroke="#1a1a1a" stroke-width="1.05"/>
<line x1="137.4" y1="287.90" x2="140.0" y2="287.90" stroke="#1a1a1a" stroke-width="1.05"/>
<text class="tk" x="133.4" y="290.60" text-anchor="end">0</text>
<line x1="137.4" y1="274.52" x2="140.0" y2="274.52" stroke="#1a1a1a" stroke-width="1.05"/>
<text class="tk" x="133.4" y="277.22" text-anchor="end">10</text>
<line x1="137.4" y1="261.15" x2="140.0" y2="261.15" stroke="#1a1a1a" stroke-width="1.05"/>
<text class="tk" x="133.4" y="263.85" text-anchor="end">20</text>
<line x1="137.4" y1="247.77" x2="140.0" y2="247.77" stroke="#1a1a1a" stroke-width="1.05"/>
<text class="tk" x="133.4" y="250.47" text-anchor="end">30</text>
<line x1="137.4" y1="234.40" x2="140.0" y2="234.40" stroke="#1a1a1a" stroke-width="1.05"/>
<text class="tk" x="133.4" y="237.10" text-anchor="end">40</text>
<rect x="142.40" y="247.91" width="4.4" height="39.99" fill="#c41232"/>
<line x1="144.60" y1="287.9" x2="144.60" y2="290.29999999999995" stroke="#222" stroke-width="0.8"/>
<text class="tk" x="144.60" y="299.20" text-anchor="middle">1</text>
<rect x="149.64" y="280.68" width="4.4" height="7.22" fill="#c41232"/>
<line x1="151.84" y1="287.9" x2="151.84" y2="290.29999999999995" stroke="#222" stroke-width="0.8"/>
<text class="tk" x="151.84" y="299.20" text-anchor="middle">2</text>
<rect x="156.88" y="283.89" width="4.4" height="4.01" fill="#c41232"/>
<line x1="159.08" y1="287.9" x2="159.08" y2="290.29999999999995" stroke="#222" stroke-width="0.8"/>
<text class="tk" x="159.08" y="299.20" text-anchor="middle">3</text>
<rect x="164.12" y="286.56" width="4.4" height="1.34" fill="#c41232"/>
<line x1="166.32" y1="287.9" x2="166.32" y2="290.29999999999995" stroke="#222" stroke-width="0.8"/>
<text class="tk" x="166.32" y="299.20" text-anchor="middle">4</text>
<rect x="171.36" y="287.10" width="4.4" height="0.80" fill="#c41232"/>
<line x1="173.56" y1="287.9" x2="173.56" y2="290.29999999999995" stroke="#222" stroke-width="0.8"/>
<text class="tk" x="173.56" y="299.20" text-anchor="middle">5</text>
<rect x="178.60" y="287.23" width="4.4" height="0.67" fill="#c41232"/>
<line x1="180.80" y1="287.9" x2="180.80" y2="290.29999999999995" stroke="#222" stroke-width="0.8"/>
<text class="tk" x="180.80" y="299.20" text-anchor="middle">6</text>
<rect x="185.84" y="287.23" width="4.4" height="0.67" fill="#c41232"/>
<line x1="188.04" y1="287.9" x2="188.04" y2="290.29999999999995" stroke="#222" stroke-width="0.8"/>
<text class="tk" x="188.04" y="299.20" text-anchor="middle">7</text>
<rect x="193.08" y="287.23" width="4.4" height="0.67" fill="#c41232"/>
<line x1="195.28" y1="287.9" x2="195.28" y2="290.29999999999995" stroke="#222" stroke-width="0.8"/>
<text class="tk" x="195.28" y="299.20" text-anchor="middle">8</text>
<rect x="200.32" y="287.36" width="4.4" height="0.54" fill="#c41232"/>
<line x1="202.52" y1="287.9" x2="202.52" y2="290.29999999999995" stroke="#222" stroke-width="0.8"/>
<text class="tk" x="202.52" y="299.20" text-anchor="middle">9</text>
<rect x="207.56" y="287.36" width="4.4" height="0.54" fill="#c41232"/>
<line x1="209.76" y1="287.9" x2="209.76" y2="290.29999999999995" stroke="#222" stroke-width="0.8"/>
<text class="tk" x="209.76" y="299.20" text-anchor="middle">10</text>
<text x="177" y="228.3" font-size="7.8" fill="#222" stroke="#222" stroke-width="0.15" text-anchor="middle">CT2</text>
<text x="149.6" y="312.4" font-size="8.3" fill="#222" stroke="#222" stroke-width="0.18" textLength="56" lengthAdjust="spacingAndGlyphs"><tspan font-style="italic">TRB</tspan> rearrangement</text>
<text transform="translate(117.9,260) rotate(-90)" font-size="8.6" fill="#222" stroke="#222" stroke-width="0.18" text-anchor="middle" textLength="59" lengthAdjust="spacingAndGlyphs">Clonal frequency (%)</text>
<line x1="256.9" y1="231.8" x2="256.9" y2="288.1" stroke="#1a1a1a" stroke-width="1.1"/>
<line x1="331.9" y1="231.8" x2="331.9" y2="288.1" stroke="#1a1a1a" stroke-width="1.1"/>
<line x1="256.9" y1="288.1" x2="331.9" y2="288.1" stroke="#1a1a1a" stroke-width="1.05"/>
<line x1="253.89999999999998" y1="288.10" x2="256.9" y2="288.10" stroke="#1a1a1a" stroke-width="1.05"/>
<text class="tk" x="250.7" y="290.90" text-anchor="end" font-size="7.6">1</text>
<line x1="253.89999999999998" y1="261.40" x2="256.9" y2="261.40" stroke="#1a1a1a" stroke-width="1.05"/>
<text class="tk" x="250.7" y="264.20" text-anchor="end" font-size="7.6">10</text>
<line x1="253.89999999999998" y1="234.70" x2="256.9" y2="234.70" stroke="#1a1a1a" stroke-width="1.05"/>
<text class="tk" x="250.7" y="237.50" text-anchor="end" font-size="7.6">100</text>
<line x1="331.9" y1="288.10" x2="334.9" y2="288.10" stroke="#1a1a1a" stroke-width="1.05"/>
<text class="tk" x="337.2" y="290.90" font-size="7.9">0</text>
<line x1="331.9" y1="274.65" x2="334.9" y2="274.65" stroke="#1a1a1a" stroke-width="1.05"/>
<text class="tk" x="337.2" y="277.45" font-size="7.9">100</text>
<line x1="331.9" y1="261.20" x2="334.9" y2="261.20" stroke="#1a1a1a" stroke-width="1.05"/>
<text class="tk" x="337.2" y="264.00" font-size="7.9">200</text>
<line x1="331.9" y1="247.75" x2="334.9" y2="247.75" stroke="#1a1a1a" stroke-width="1.05"/>
<text class="tk" x="337.2" y="250.55" font-size="7.9">300</text>
<line x1="331.9" y1="234.30" x2="334.9" y2="234.30" stroke="#1a1a1a" stroke-width="1.05"/>
<text class="tk" x="337.2" y="237.10" font-size="7.9">400</text>
<line x1="256.90" y1="288.1" x2="256.90" y2="290.70000000000005" stroke="#1a1a1a" stroke-width="1.05"/>
<text class="tk" x="256.90" y="300.2" text-anchor="middle" font-size="8.2">40</text>
<line x1="273.15" y1="288.1" x2="273.15" y2="290.70000000000005" stroke="#1a1a1a" stroke-width="1.05"/>
<text class="tk" x="273.15" y="300.2" text-anchor="middle" font-size="8.2">50</text>
<line x1="289.40" y1="288.1" x2="289.40" y2="290.70000000000005" stroke="#1a1a1a" stroke-width="1.05"/>
<text class="tk" x="289.40" y="300.2" text-anchor="middle" font-size="8.2">60</text>
<line x1="305.65" y1="288.1" x2="305.65" y2="290.70000000000005" stroke="#1a1a1a" stroke-width="1.05"/>
<text class="tk" x="305.65" y="300.2" text-anchor="middle" font-size="8.2">70</text>
<line x1="321.90" y1="288.1" x2="321.90" y2="290.70000000000005" stroke="#1a1a1a" stroke-width="1.05"/>
<text class="tk" x="321.90" y="300.2" text-anchor="middle" font-size="8.2">80</text>
<polyline points="260.2,266.6 271.5,264.2 289,262.1 300.8,262.7 316.9,265.6 331.5,262.1" fill="none" stroke="#cc2249" stroke-width="1.2"/>
<circle cx="260.2" cy="266.6" r="1.1" fill="#d0244a"/>
<circle cx="271.5" cy="264.2" r="1.1" fill="#d0244a"/>
<circle cx="289" cy="262.1" r="1.1" fill="#d0244a"/>
<circle cx="300.8" cy="262.7" r="1.1" fill="#d0244a"/>
<circle cx="316.9" cy="265.6" r="1.1" fill="#d0244a"/>
<circle cx="331.5" cy="262.1" r="1.1" fill="#d0244a"/>
<polyline points="260.2,284.2 266.3,286.4 271.9,287.3 277.3,286.2 282.8,280.7 289.6,261.1 294.6,247.7 300.8,243.1 313.8,270.4 316.9,275.1 323.5,284.4 328.8,286.9" fill="none" stroke="#1b4f85" stroke-width="1.2"/>
<circle cx="260.2" cy="284.2" r="1.4" fill="#163f6a"/>
<circle cx="266.3" cy="286.4" r="1.4" fill="#163f6a"/>
<circle cx="271.9" cy="287.3" r="1.4" fill="#163f6a"/>
<circle cx="277.3" cy="286.2" r="1.4" fill="#163f6a"/>
<circle cx="282.8" cy="280.7" r="1.4" fill="#163f6a"/>
<circle cx="289.6" cy="261.1" r="1.4" fill="#163f6a"/>
<circle cx="294.6" cy="247.7" r="1.4" fill="#163f6a"/>
<circle cx="300.8" cy="243.1" r="1.4" fill="#163f6a"/>
<circle cx="313.8" cy="270.4" r="1.4" fill="#163f6a"/>
<circle cx="316.9" cy="275.1" r="1.4" fill="#163f6a"/>
<circle cx="323.5" cy="284.4" r="1.4" fill="#163f6a"/>
<circle cx="328.8" cy="286.9" r="1.4" fill="#163f6a"/>
<text x="293.6" y="228.3" font-size="7.8" fill="#222" stroke="#222" stroke-width="0.15" text-anchor="middle">CT1</text>
<text x="259.9" y="273.6" font-size="7.3" fill="#cf2a50" stroke="#cf2a50" stroke-width="0.1" font-style="italic">TRB</text>
<text x="287.1" y="311.7" font-size="9.1" fill="#222" stroke="#222" stroke-width="0.32" textLength="14" lengthAdjust="spacingAndGlyphs">Days</text>
<text transform="translate(231.6,259.4) rotate(-90)" font-size="8.3" fill="#cf2a50" stroke="#cf2a50" stroke-width="0.3" text-anchor="middle" textLength="60" lengthAdjust="spacingAndGlyphs">Clonal frequency (%)</text>
<text transform="translate(357.8,260.3) rotate(90)" font-size="8.3" fill="#1f5a8e" stroke="#1f5a8e" stroke-width="0.3" text-anchor="middle" textLength="61.5" lengthAdjust="spacingAndGlyphs">Platelet count (10<tspan font-size="5" dy="-2.8">9</tspan><tspan dy="2.8">/L)</tspan></text>
<line x1="407.7" y1="231.8" x2="407.7" y2="288.1" stroke="#1a1a1a" stroke-width="1.1"/>
<line x1="483.0" y1="231.8" x2="483.0" y2="288.1" stroke="#1a1a1a" stroke-width="1.1"/>
<line x1="407.7" y1="288.1" x2="483.0" y2="288.1" stroke="#1a1a1a" stroke-width="1.05"/>
<line x1="404.7" y1="288.10" x2="407.7" y2="288.10" stroke="#1a1a1a" stroke-width="1.05"/>
<text class="tk" x="401.5" y="290.90" text-anchor="end" font-size="7.6">1</text>
<line x1="404.7" y1="261.40" x2="407.7" y2="261.40" stroke="#1a1a1a" stroke-width="1.05"/>
<text class="tk" x="401.5" y="264.20" text-anchor="end" font-size="7.6">10</text>
<line x1="404.7" y1="234.70" x2="407.7" y2="234.70" stroke="#1a1a1a" stroke-width="1.05"/>
<text class="tk" x="401.5" y="237.50" text-anchor="end" font-size="7.6">100</text>
<line x1="483.0" y1="288.10" x2="486.0" y2="288.10" stroke="#1a1a1a" stroke-width="1.05"/>
<text class="tk" x="488.3" y="290.90" font-size="7.9">0</text>
<line x1="483.0" y1="270.17" x2="486.0" y2="270.17" stroke="#1a1a1a" stroke-width="1.05"/>
<text class="tk" x="488.3" y="272.97" font-size="7.9">50</text>
<line x1="483.0" y1="252.23" x2="486.0" y2="252.23" stroke="#1a1a1a" stroke-width="1.05"/>
<text class="tk" x="488.3" y="255.03" font-size="7.9">100</text>
<line x1="483.0" y1="234.30" x2="486.0" y2="234.30" stroke="#1a1a1a" stroke-width="1.05"/>
<text class="tk" x="488.3" y="237.10" font-size="7.9">150</text>
<line x1="418.14" y1="288.1" x2="418.14" y2="290.70000000000005" stroke="#1a1a1a" stroke-width="1.05"/>
<text class="tk" x="418.14" y="300.2" text-anchor="middle" font-size="8.2">30</text>
<line x1="433.97" y1="288.1" x2="433.97" y2="290.70000000000005" stroke="#1a1a1a" stroke-width="1.05"/>
<text class="tk" x="433.97" y="300.2" text-anchor="middle" font-size="8.2">35</text>
<line x1="449.79" y1="288.1" x2="449.79" y2="290.70000000000005" stroke="#1a1a1a" stroke-width="1.05"/>
<text class="tk" x="449.79" y="300.2" text-anchor="middle" font-size="8.2">40</text>
<line x1="465.62" y1="288.1" x2="465.62" y2="290.70000000000005" stroke="#1a1a1a" stroke-width="1.05"/>
<text class="tk" x="465.62" y="300.2" text-anchor="middle" font-size="8.2">45</text>
<line x1="481.44" y1="288.1" x2="481.44" y2="290.70000000000005" stroke="#1a1a1a" stroke-width="1.05"/>
<text class="tk" x="481.44" y="300.2" text-anchor="middle" font-size="8.2">50</text>
<polyline points="411.5,250.8 433.5,254.1 443.7,252.3 460.3,251 479.9,248.9" fill="none" stroke="#cc2249" stroke-width="1.2"/>
<circle cx="411.5" cy="250.8" r="1.1" fill="#d0244a"/>
<circle cx="433.5" cy="254.1" r="1.1" fill="#d0244a"/>
<circle cx="443.7" cy="252.3" r="1.1" fill="#d0244a"/>
<circle cx="460.3" cy="251" r="1.1" fill="#d0244a"/>
<circle cx="479.9" cy="248.9" r="1.1" fill="#d0244a"/>
<polyline points="411.5,281.8 421.7,279.1 433.5,267.3 443.7,237.2 460.3,248 470,262.2 479.9,280.3" fill="none" stroke="#1b4f85" stroke-width="1.2"/>
<circle cx="411.5" cy="281.8" r="1.4" fill="#163f6a"/>
<circle cx="421.7" cy="279.1" r="1.4" fill="#163f6a"/>
<circle cx="433.5" cy="267.3" r="1.4" fill="#163f6a"/>
<circle cx="443.7" cy="237.2" r="1.4" fill="#163f6a"/>
<circle cx="460.3" cy="248" r="1.4" fill="#163f6a"/>
<circle cx="470" cy="262.2" r="1.4" fill="#163f6a"/>
<circle cx="479.9" cy="280.3" r="1.4" fill="#163f6a"/>
<text x="445" y="228.3" font-size="7.8" fill="#222" stroke="#222" stroke-width="0.15" text-anchor="middle">CT2</text>
<text x="409.8" y="260.7" font-size="7.3" fill="#cf2a50" stroke="#cf2a50" stroke-width="0.1" font-style="italic">TRB</text>
<text x="438.1" y="311.7" font-size="9.1" fill="#222" stroke="#222" stroke-width="0.32" textLength="14" lengthAdjust="spacingAndGlyphs">Days</text>
<text transform="translate(381.9,259.4) rotate(-90)" font-size="8.3" fill="#cf2a50" stroke="#cf2a50" stroke-width="0.3" text-anchor="middle" textLength="60" lengthAdjust="spacingAndGlyphs">Clonal frequency (%)</text>
<text transform="translate(509,258) rotate(90)" font-size="8.3" fill="#1f5a8e" stroke="#1f5a8e" stroke-width="0.3" text-anchor="middle" textLength="61.5" lengthAdjust="spacingAndGlyphs">Platelet count (10<tspan font-size="5" dy="-2.8">9</tspan><tspan dy="2.8">/L)</tspan></text>
</svg>
</body></html>
